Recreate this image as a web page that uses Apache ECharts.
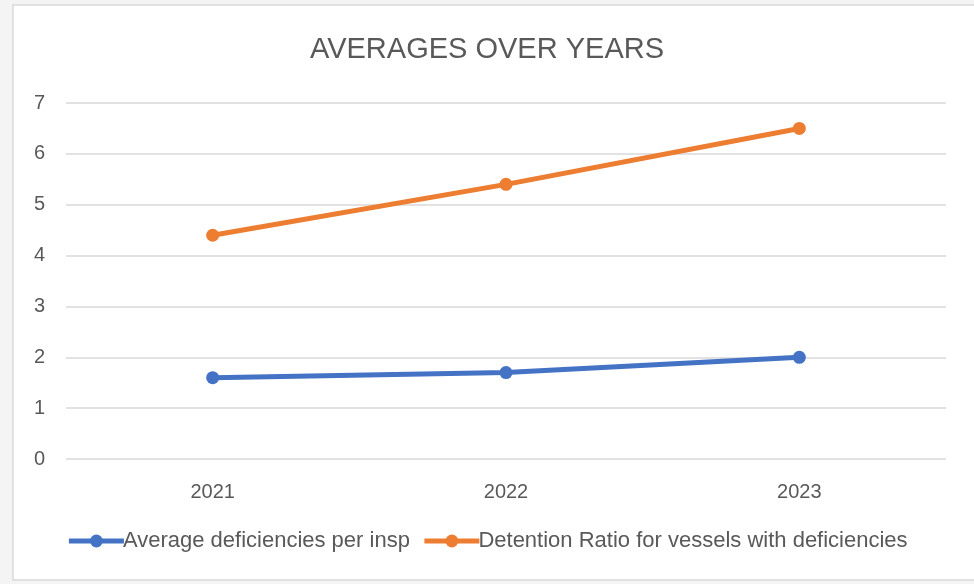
<!DOCTYPE html>
<html>
<head>
<meta charset="utf-8">
<script src="https://cdn.jsdelivr.net/npm/echarts@6/dist/echarts.min.js"></script>
<style>
  html, body { margin: 0; padding: 0; background: #ffffff; }
  #chart { width: 974px; height: 584px; }
</style>
</head>
<body>
<div id="chart"></div>
<script>
// data
const years = ["2021", "2022", "2023"];
const avgDeficiencies = [1.6, 1.7, 2.0];
const detentionRatio = [4.4, 5.4, 6.5];
const seriesNames = ["Average deficiencies per insp", "Detention Ratio for vessels with deficiencies"];

const txt = "#595959";
const font = "'Liberation Sans', sans-serif";

const chart = echarts.init(document.getElementById("chart"), null, { renderer: "canvas" });

const option = {
  animation: false,
  backgroundColor: "#f4f4f4",
  textStyle: { fontFamily: font },
  graphic: [
    {
      type: "rect",
      z: -10,
      shape: { x: 13, y: 5, width: 975, height: 575 },
      style: { fill: "#ffffff", stroke: "#d9d9d9", lineWidth: 1.5 }
    }
  ],
  title: {
    text: "AVERAGES OVER YEARS",
    left: "center",
    top: 30,
    textStyle: { fontFamily: font, fontSize: 29, fontWeight: "normal", color: txt }
  },
  legend: {
    data: seriesNames,
    bottom: 27,
    left: "center",
    itemWidth: 55,
    itemHeight: 16,
    itemGap: 12,
    lineStyle: { width: 5 },
    textStyle: { fontFamily: font, fontSize: 22, color: txt, padding: [0, 0, 0, -6] }
  },
  grid: { left: 66, right: 28, top: 103, bottom: 125 },
  xAxis: {
    type: "category",
    data: years,
    boundaryGap: true,
    axisLine: { show: false },
    axisTick: { show: false },
    axisLabel: { color: txt, fontSize: 20, margin: 23, fontFamily: font }
  },
  yAxis: {
    type: "value",
    min: 0,
    max: 7,
    interval: 1,
    axisLine: { show: false },
    axisTick: { show: false },
    axisLabel: { color: txt, fontSize: 20, margin: 21, fontFamily: font },
    splitLine: { lineStyle: { color: "#d9d9d9", width: 1.5 } }
  },
  series: [
    {
      name: seriesNames[0],
      type: "line",
      data: avgDeficiencies,
      color: "#4472C4",
      symbol: "circle",
      symbolSize: 13,
      lineStyle: { width: 5, color: "#4472C4" },
      itemStyle: { color: "#4472C4" }
    },
    {
      name: seriesNames[1],
      type: "line",
      data: detentionRatio,
      color: "#ED7D31",
      symbol: "circle",
      symbolSize: 13,
      lineStyle: { width: 5, color: "#ED7D31" },
      itemStyle: { color: "#ED7D31" }
    }
  ]
};

chart.setOption(option);
</script>
</body>
</html>
